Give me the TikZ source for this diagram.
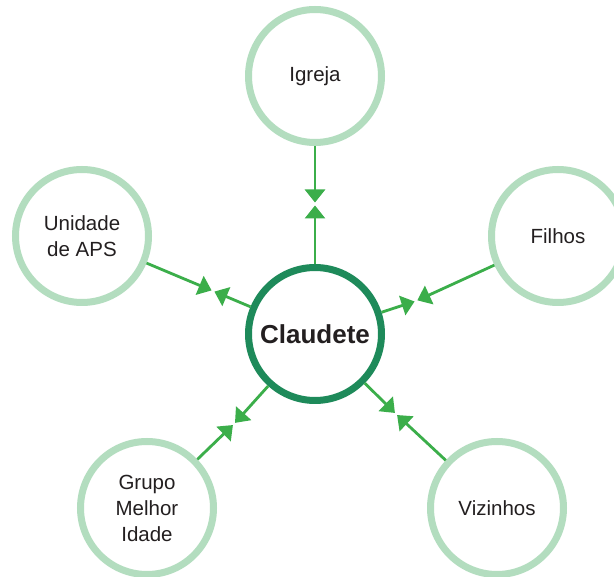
\documentclass[tikz,border=0pt]{standalone}
\usepackage{fontspec}
\setmainfont{Liberation Sans}
\usetikzlibrary{arrows.meta}
\definecolor{ringlight}{HTML}{B3DDBF}
\definecolor{ringdark}{HTML}{1E8A5A}
\definecolor{linkgreen}{HTML}{3BAE4A}
\definecolor{textgray}{HTML}{231F20}
\tikzset{
  actor/.style={circle,draw=ringlight,line width=7pt,minimum size=133pt,inner sep=0pt,
    align=center,text=textgray,font=\fontsize{20.5}{26}\selectfont},
  ego/.style={circle,draw=ringdark,line width=7pt,minimum size=133pt,inner sep=0pt,
    text=textgray,font=\fontsize{26}{30}\selectfont\bfseries},
  link/.style={draw=linkgreen,line width=2.8pt,-{Triangle[length=13pt,width=20pt]}}
}
\begin{document}
\begin{tikzpicture}[x=1pt,y=-1pt]
\useasboundingbox[fill=white] (0,0) rectangle (614,577);
% rede de apoio
\node[ego] (claudete) at (315,334){Claudete};
\node[actor] (igreja) at (315,76){Igreja};
\node[actor] (unidade) at (82,236){Unidade\\de APS};
\node[actor] (filhos) at (558,236){Filhos};
\node[actor] (grupo) at (147,508){Grupo\\Melhor\\Idade};
\node[actor] (vizinhos) at (497,508){Vizinhos};
% pontos de encontro das setas
\coordinate (mIgreja) at (315,204);
\coordinate (mUnidade) at (213,291);
\coordinate (mFilhos) at (416,301);
\coordinate (mGrupo) at (234,424);
\coordinate (mVizinhos) at (396,414);
\foreach \n/\m in {igreja/mIgreja,unidade/mUnidade,filhos/mFilhos,grupo/mGrupo,vizinhos/mVizinhos}{
  \draw[link,shorten >=1.5pt] (\n) -- (\m);
  \draw[link,shorten >=1.5pt] (claudete) -- (\m);
}
\end{tikzpicture}
\end{document}
